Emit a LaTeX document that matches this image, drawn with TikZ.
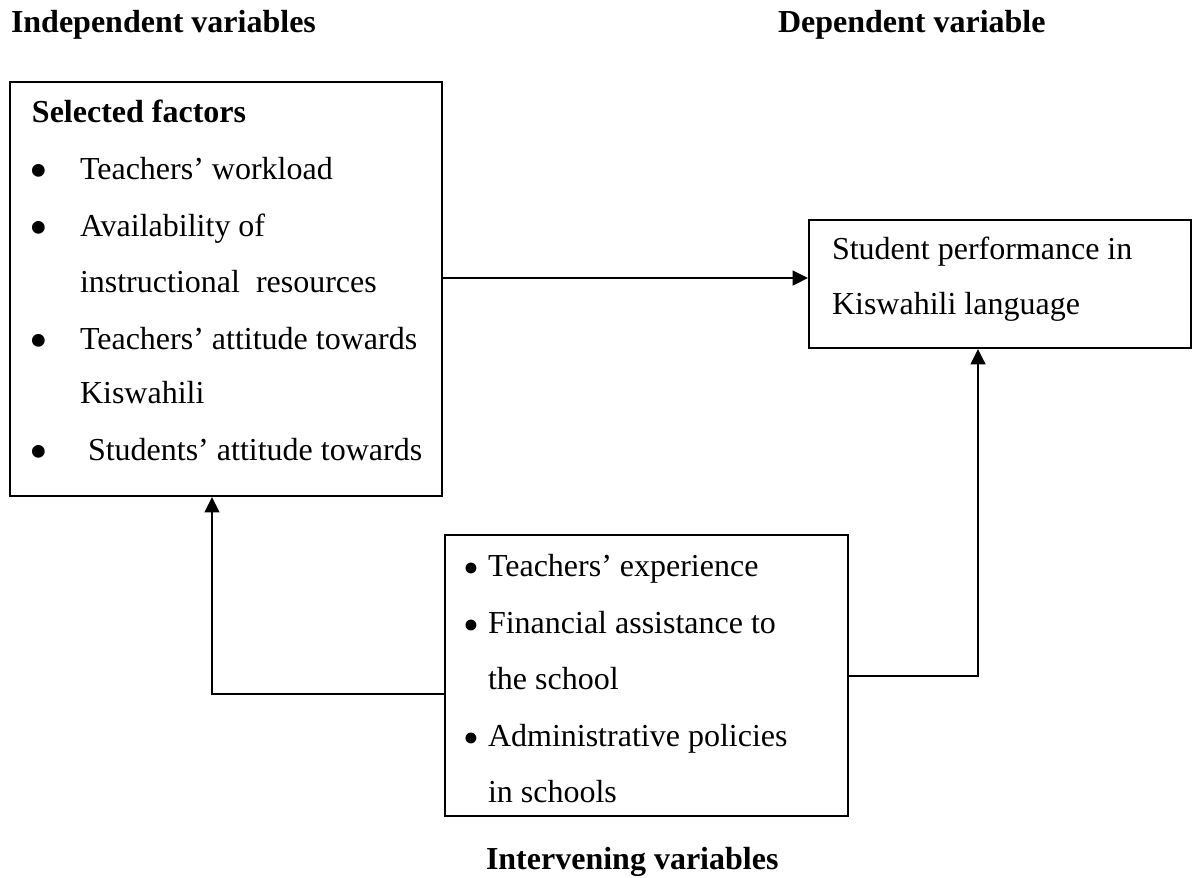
\documentclass[tikz,border=0pt]{standalone}
\usepackage{fontspec}
\setmainfont{Liberation Serif}
\usetikzlibrary{arrows.meta}

\begin{document}
\begin{tikzpicture}[x=0.375pt,y=-0.375pt,line width=0.75pt,>={Triangle[length=5.8pt,width=5.6pt]},font=\fontsize{12}{14}\selectfont]
	\def \px{0.375pt}
	\tikzstyle{box}=[draw=black,line width=0.75pt,inner sep=0pt]
	\tikzstyle{head}=[font=\fontsize{12}{14}\selectfont\bfseries,anchor=base west,inner sep=0pt]
	\tikzstyle{item}=[anchor=base west,inner sep=0pt]
	\tikzstyle{dot}=[anchor=center,inner sep=0pt,font=\fontsize{20}{22}\selectfont]
	\tikzstyle{smalldot}=[anchor=center,inner sep=0pt,font=\fontsize{17}{19}\selectfont]
	\useasboundingbox (0,0) rectangle (1192,877);

	% headings
	\node[head] (indep)	at (10,32)	{Independent variables};
	\node[head] (dep)	at (777,32)	{Dependent variable};
	\node[head] (interv)	at (485,869)	{Intervening variables};

	% boxes
	\node[box,minimum width=432*\px,minimum height=414*\px] (fac)	at (226,289)	{};
	\node[box,minimum width=382*\px,minimum height=128*\px] (perf)	at (1000,284)	{};
	\node[box,minimum width=403*\px,minimum height=281*\px] (inter)	at (646.5,675.5)	{};

	% selected factors
	\node[head] (f0)	at (31,122)	{Selected factors};
	\node[dot] (b1)	at (39,176)	{\textbullet};
	\node[dot] (b2)	at (39,233)	{\textbullet};
	\node[dot] (b3)	at (39,346)	{\textbullet};
	\node[dot] (b4)	at (39,457)	{\textbullet};
	\node[item] (f1)	at (79,179)	{Teachers’ workload};
	\node[item] (f2)	at (79,236)	{Availability of};
	\node[item] (f3)	at (79,292)	{instructional\ \ resources};
	\node[item] (f4)	at (79,349)	{Teachers’ attitude towards};
	\node[item] (f5)	at (79,403)	{Kiswahili};
	\node[item] (f6)	at (87,460)	{Students’ attitude towards};

	% performance
	\node[item] (p1)	at (831,259)	{Student performance in};
	\node[item] (p2)	at (831,314)	{Kiswahili language};

	% intervening
	\node[smalldot] (c1)	at (471,573)	{\textbullet};
	\node[smalldot] (c2)	at (471,630)	{\textbullet};
	\node[smalldot] (c3)	at (471,743)	{\textbullet};
	\node[item] (i1)	at (487,576)	{Teachers’ experience};
	\node[item] (i2)	at (487,633)	{Financial assistance to};
	\node[item] (i3)	at (487,689)	{the school};
	\node[item] (i4)	at (487,746)	{Administrative policies};
	\node[item] (i5)	at (487,802)	{in schools};

	\draw[->] (fac.east |- 0,278) -- (perf.west |- 0,278);
	\draw[->] (inter.east |- 0,676) -| (perf.south -| 978,0);
	\draw[->] (inter.west |- 0,694) -| (fac.south -| 212,0);
\end{tikzpicture}
\end{document}
